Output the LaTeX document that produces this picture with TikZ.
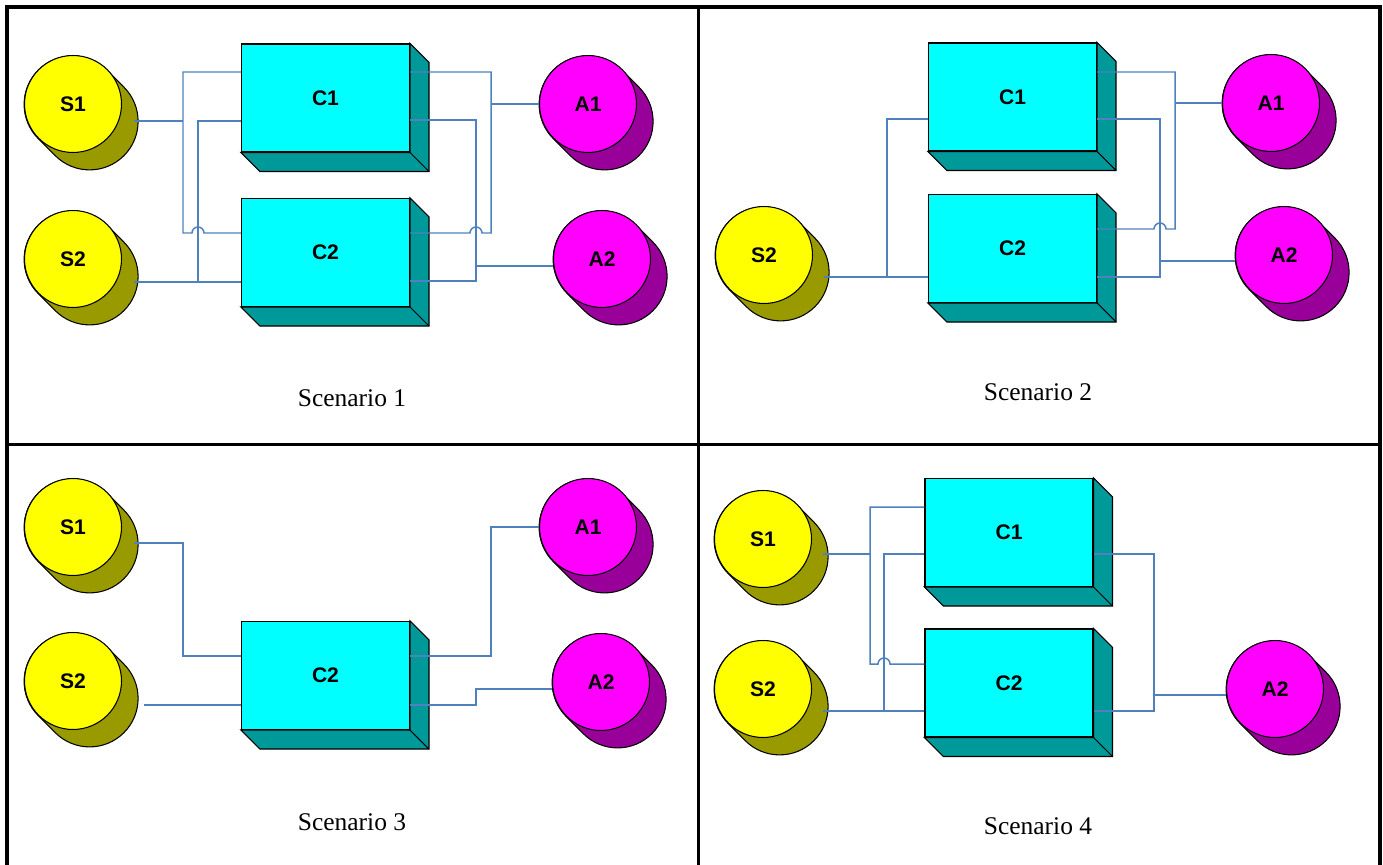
\documentclass[tikz,border=0pt]{standalone}
\usepackage{fontspec}
\setmainfont{Liberation Serif}
\newfontfamily\tagfont{Liberation Sans}
\usetikzlibrary{calc}

\definecolor{wireblue}{RGB}{79,129,189}
\definecolor{srcface}{RGB}{255,255,0}
\definecolor{srcbody}{RGB}{153,153,0}
\definecolor{actface}{RGB}{255,0,255}
\definecolor{actbody}{RGB}{153,0,153}
\definecolor{boxface}{RGB}{0,255,255}
\definecolor{boxside}{RGB}{0,153,153}

% drum: dark body first, then the lit front face as a node
\newcommand{\tank}[5]{%
  \filldraw[fill=#4, line width=0.6pt]
    ($#2+(33.9,-33.9)$) -- ++(17,17) arc[start angle=-45, end angle=135, radius=48.5]
    -- ++(-17,-17) arc[start angle=135, end angle=315, radius=48.5] -- cycle;
  \node[tank, fill=#3] (#1) at #2 {#5};
}
% box: front face node, then right and bottom faces
\newcommand{\cabinet}[3]{%
  \node[cabinet] (#1) at #2 {#3};
  \filldraw[fill=boxside, line width=0.6pt]
    (#1.north east) -- ++(19,19) -- ([shift={(19,19)}]#1.south east)
    -- ([shift={(19,19)}]#1.south west) -- (#1.south west) -- (#1.south east) -- cycle;
  \draw[line width=0.6pt] (#1.south east) -- ++(19,19);
}
% wire jumps over a crossing line
\newcommand{\hopR}{arc[start angle=180, end angle=360, radius=6]}
\newcommand{\hopL}{arc[start angle=0, end angle=-180, radius=6]}

\begin{document}
\begin{tikzpicture}[
  x=0.02cm, y=-0.02cm,
  tank/.style={circle, draw, line width=0.6pt, minimum size=1.94cm, inner sep=0pt,
    font=\tagfont\bfseries\fontsize{12}{14}\selectfont},
  cabinet/.style={rectangle, draw, fill=boxface, line width=0.6pt, minimum width=3.36cm,
    minimum height=2.16cm, inner sep=0pt, font=\tagfont\bfseries\fontsize{12}{14}\selectfont},
  caption/.style={font=\fontsize{14.5}{17}\selectfont},
  wire/.style={draw=wireblue, line width=0.85pt},
  frame/.style={line width=2pt}
]
\useasboundingbox (0,0) rectangle (1383,865);

% outer frame and panel grid
\draw[frame] (7,865) -- (7,7) -- (1380,7) -- (1380,865);
\draw[frame] (698.5,7) -- (698.5,865);
\draw[frame] (7,444.5) -- (1380,444.5);

% Scenario 1
\tank{p1s1}{(73,104)}{srcface}{srcbody}{S1}
\tank{p1s2}{(73,259)}{srcface}{srcbody}{S2}
\cabinet{p1c1}{(325.5,98)}{C1}
\cabinet{p1c2}{(325.5,252.5)}{C2}
\tank{p1a1}{(588,104)}{actface}{actbody}{A1}
\tank{p1a2}{(602,259)}{actface}{actbody}{A2}
\node[caption] (cap1) at (352,398) {Scenario 1};

\draw[wire] ($(p1s1)+(61,17)$) -- (183,121);
\draw[wire] (p1c1.west |- 0,72) -- (183,72) -- (183,233) -- (192,233) \hopR -- (p1c2.west |- 0,233);
\draw[wire] ($(p1s2)+(61,23)$) -- (p1c2.west |- 0,282);
\draw[wire] (198,282) -- (198,121) -- (p1c1.west |- 0,121);
\draw[wire] (p1c1.east |- 0,72) -- (491,72) -- (491,233) -- (482,233) \hopL -- (p1c2.east |- 0,233);
\draw[wire] (491,104) -- (p1a1.west);
\draw[wire] (p1c1.east |- 0,120) -- (476,120) -- (476,281) -- (p1c2.east |- 0,281);
\draw[wire] (476,266) -- (p1a2.west |- 0,266);

% Scenario 2
\tank{p2s2}{(764,255)}{srcface}{srcbody}{S2}
\cabinet{p2c1}{(1012.5,97)}{C1}
\cabinet{p2c2}{(1012.5,248.5)}{C2}
\tank{p2a1}{(1271,103)}{actface}{actbody}{A1}
\tank{p2a2}{(1284,255)}{actface}{actbody}{A2}
\node[caption] (cap2) at (1038,392) {Scenario 2};

\draw[wire] ($(p2s2)+(60,22)$) -- (p2c2.west |- 0,277);
\draw[wire] (887,277) -- (887,119) -- (p2c1.west |- 0,119);
\draw[wire] (p2c1.east |- 0,72) -- (1175,72) -- (1175,229) -- (1166,229) \hopL -- (p2c2.east |- 0,229);
\draw[wire] (1175,103) -- (p2a1.west);
\draw[wire] (p2c1.east |- 0,119) -- (1160,119) -- (1160,277) -- (p2c2.east |- 0,277);
\draw[wire] (1160,261) -- (p2a2.west |- 0,261);

% Scenario 3
\tank{p3s1}{(73,527)}{srcface}{srcbody}{S1}
\tank{p3s2}{(73,681)}{srcface}{srcbody}{S2}
\cabinet{p3c2}{(325.5,675.5)}{C2}
\tank{p3a1}{(588,527)}{actface}{actbody}{A1}
\tank{p3a2}{(601,682)}{actface}{actbody}{A2}
\node[caption] (cap3) at (352,822) {Scenario 3};

\draw[wire] ($(p3s1)+(61,16)$) -- (183,543) -- (183,656) -- (p3c2.west |- 0,656);
\draw[wire] ($(p3s2)+(71,24)$) -- (p3c2.west |- 0,705);
\draw[wire] (p3c2.east |- 0,656) -- (491,656) -- (491,527) -- (p3a1.west);
\draw[wire] (p3c2.east |- 0,705) -- (476,705) -- (476,689) -- (p3a2.west |- 0,689);

% Scenario 4
\tank{p4s1}{(763,539)}{srcface}{srcbody}{S1}
\tank{p4s2}{(763,689)}{srcface}{srcbody}{S2}
\cabinet{p4c1}{(1009,532.5)}{C1}
\cabinet{p4c2}{(1009,683)}{C2}
\tank{p4a2}{(1275,689)}{actface}{actbody}{A2}
\node[caption] (cap4) at (1038,826) {Scenario 4};

\draw[wire] ($(p4s1)+(60,15)$) -- (870,554);
\draw[wire] (p4c1.west |- 0,507) -- (870,507) -- (870,664) -- (878,664) \hopR -- (p4c2.west |- 0,664);
\draw[wire] ($(p4s2)+(60,22)$) -- (p4c2.west |- 0,711);
\draw[wire] (884,711) -- (884,554) -- (p4c1.west |- 0,554);
\draw[wire] (p4c1.east |- 0,554) -- (1154,554) -- (1154,711) -- (p4c2.east |- 0,711);
\draw[wire] (1154,695) -- (p4a2.west |- 0,695);
\end{tikzpicture}
\end{document}
